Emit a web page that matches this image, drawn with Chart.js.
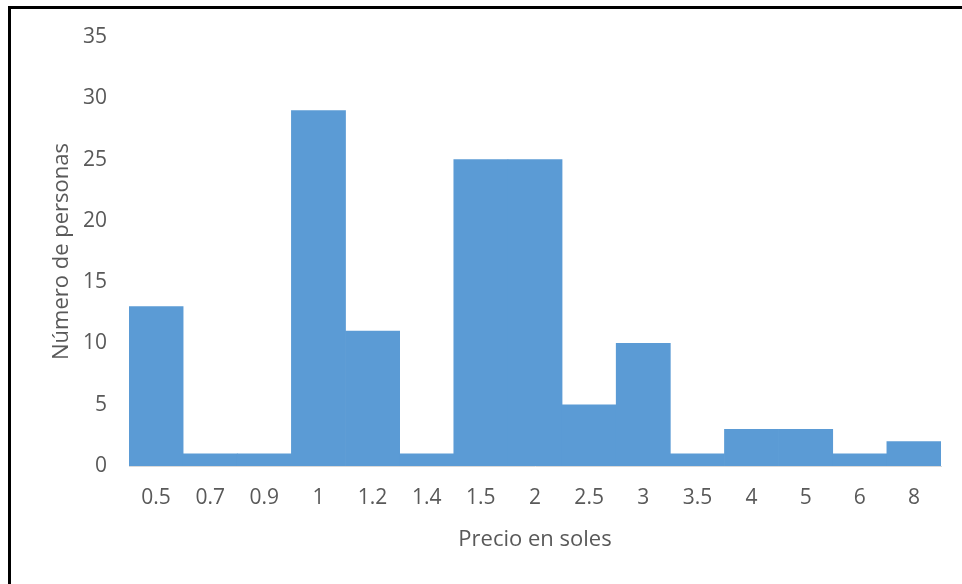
<!DOCTYPE html>
<html>
<head>
<meta charset="utf-8">
<script src="https://cdn.jsdelivr.net/npm/chart.js@4/dist/chart.umd.min.js"></script>
<style>
  html, body { margin: 0; padding: 0; background: #fff; }
  #wrap { position: relative; width: 962px; height: 584px; overflow: hidden; }
  #frame {
    position: absolute; left: 8px; top: 6px; width: 980px; height: 600px;
    border-left: 3px solid #000; border-top: 3px solid #000;
    box-sizing: border-box; pointer-events: none;
  }
  canvas { position: absolute; left: 0; top: 0; }
</style>
</head>
<body>
<div id="wrap">
  <canvas id="chart" width="962" height="584"></canvas>
  <div id="frame"></div>
</div>
<script>
// Price (soles) categories and number of people for each
const precios = ["0.5", "0.7", "0.9", "1", "1.2", "1.4", "1.5", "2", "2.5", "3", "3.5", "4", "5", "6", "8"];
const personas = [13, 1, 1, 29, 11, 1, 25, 25, 5, 10, 1, 3, 3, 1, 2];
const yTicks = [0, 5, 10, 15, 20, 25, 30, 35];

const textColor = "#595959";
const fontFamily = "'Open Sans', 'Noto Sans', sans-serif";

new Chart(document.getElementById("chart"), {
  type: "bar",
  data: {
    labels: precios,
    datasets: [{
      data: personas,
      backgroundColor: "#5B9BD5",
      borderWidth: 0,
      categoryPercentage: 1.0,
      barPercentage: 1.0
    }]
  },
  options: {
    responsive: false,
    animation: false,
    devicePixelRatio: 1,
    layout: { padding: { left: 39, right: 21, top: 37, bottom: 0 } },
    plugins: { legend: { display: false }, tooltip: { enabled: false } },
    scales: {
      x: {
        grid: { display: false, drawTicks: false },
        border: { display: true, color: "#D9D9D9", width: 1 },
        ticks: {
          color: textColor, font: { family: fontFamily, size: 21 },
          padding: 19, maxRotation: 0, autoSkip: false
        },
        title: {
          display: true, text: "Precio en soles", color: textColor,
          font: { family: fontFamily, size: 22 }, padding: { top: 0, bottom: 31 }
        },
        afterFit(scale) { scale.height = 118; }
      },
      y: {
        min: 0, max: 35,
        afterBuildTicks(scale) { scale.ticks = yTicks.map(v => ({ value: v })); },
        grid: { display: false, drawTicks: false },
        border: { display: false },
        ticks: {
          color: textColor, font: { family: fontFamily, size: 21 }, padding: 22
        },
        title: {
          display: true, text: "Número de personas", color: textColor,
          font: { family: fontFamily, size: 22 }, padding: { top: 10, bottom: 0 }
        },
        afterFit(scale) { scale.width = 90; }
      }
    }
  }
});
</script>
</body>
</html>
